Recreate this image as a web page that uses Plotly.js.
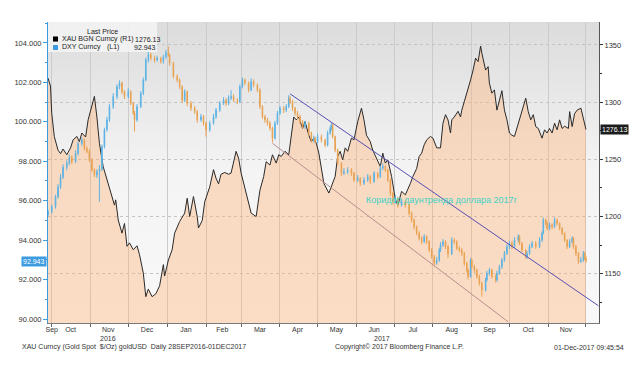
<!DOCTYPE html>
<html><head><meta charset="utf-8">
<script src="https://cdn.plot.ly/plotly-3.0.1.min.js"></script>
<style>html,body{margin:0;padding:0;background:#fff;}#chart{width:640px;height:374px;}</style>
</head><body><div id="chart"></div>
<script>
// ---------- DATA ----------
const goldDates = ['2016-09-28','2016-09-30','2016-10-01','2016-10-03','2016-10-06','2016-10-08','2016-10-10','2016-10-13','2016-10-16','2016-10-18','2016-10-21','2016-10-23','2016-10-25','2016-10-28','2016-10-30','2016-11-02','2016-11-04','2016-11-06','2016-11-08','2016-11-11','2016-11-14','2016-11-17','2016-11-20','2016-11-21','2016-11-23','2016-11-26','2016-11-28','2016-11-30','2016-12-02','2016-12-05','2016-12-08','2016-12-10','2016-12-13','2016-12-15','2016-12-17','2016-12-20','2016-12-23','2016-12-26','2016-12-29','2016-12-30','2017-01-02','2017-01-05','2017-01-07','2017-01-11','2017-01-15','2017-01-17','2017-01-19','2017-01-22','2017-01-25','2017-01-26','2017-01-29','2017-01-31','2017-02-04','2017-02-07','2017-02-09','2017-02-11','2017-02-13','2017-02-16','2017-02-19','2017-02-21','2017-02-25','2017-02-27','2017-03-01','2017-03-04','2017-03-07','2017-03-09','2017-03-13','2017-03-16','2017-03-19','2017-03-21','2017-03-24','2017-03-26','2017-03-29','2017-03-31','2017-04-02','2017-04-05','2017-04-08','2017-04-10','2017-04-12','2017-04-14','2017-04-16','2017-04-19','2017-04-21','2017-04-24','2017-04-26','2017-04-28','2017-04-30','2017-05-02','2017-05-04','2017-05-06','2017-05-10','2017-05-12','2017-05-15','2017-05-17','2017-05-19','2017-05-21','2017-05-23','2017-05-25','2017-05-28','2017-05-30','2017-06-02','2017-06-05','2017-06-07','2017-06-09','2017-06-12','2017-06-14','2017-06-17','2017-06-20','2017-06-22','2017-06-24','2017-06-26','2017-06-29','2017-07-02','2017-07-04','2017-07-07','2017-07-10','2017-07-14','2017-07-16','2017-07-19','2017-07-21','2017-07-23','2017-07-25','2017-07-27','2017-07-30','2017-08-01','2017-08-04','2017-08-07','2017-08-09','2017-08-11','2017-08-13','2017-08-15','2017-08-16','2017-08-18','2017-08-21','2017-08-23','2017-08-24','2017-08-26','2017-08-29','2017-08-31','2017-09-02','2017-09-04','2017-09-06','2017-09-08','2017-09-09','2017-09-12','2017-09-14','2017-09-15','2017-09-17','2017-09-19','2017-09-21','2017-09-23','2017-09-25','2017-09-27','2017-09-29','2017-10-01','2017-10-03','2017-10-05','2017-10-08','2017-10-10','2017-10-14','2017-10-16','2017-10-18','2017-10-20','2017-10-22','2017-10-24','2017-10-27','2017-10-29','2017-10-31','2017-11-02','2017-11-04','2017-11-06','2017-11-08','2017-11-10','2017-11-12','2017-11-14','2017-11-17','2017-11-18','2017-11-20','2017-11-22','2017-11-24','2017-11-27','2017-11-29','2017-12-01'];
const goldValues = [1321,1314,1290,1270,1258,1255,1259,1254,1260,1267,1270,1265.5,1273,1269.5,1284.5,1298.5,1305,1287,1264,1243.7,1232,1220.5,1210,1214.6,1197,1185.5,1194,1174,1177,1171,1174.5,1166.6,1150.6,1130,1136.6,1130,1132.5,1139.5,1158,1148,1162,1171,1185.5,1195.7,1203,1216,1200,1217.5,1200,1190,1196.5,1213,1226,1241,1233.5,1228.6,1237,1238.5,1237,1238,1257,1251,1238,1225,1210,1203,1200,1223,1235,1248,1245,1254,1246.7,1254,1252.5,1257,1254,1271,1287,1284.5,1287,1277,1283,1271,1265.5,1268.5,1264,1255.4,1241,1229,1220.5,1226,1235,1252.5,1257,1249.6,1260,1257,1268.5,1267,1283,1294.7,1284.5,1271,1265.5,1258,1251,1243.7,1255.4,1246.7,1249.6,1235,1215,1210,1222,1219,1229,1235,1242,1252.5,1255.4,1262.7,1267,1270,1268.5,1260,1260,1281.6,1289,1284.5,1273,1284.5,1287,1292,1287,1293,1300.5,1310.7,1319.4,1328,1338.4,1335.4,1349,1342.7,1328,1331,1316.5,1307.8,1310.7,1293,1302,1310,1293,1284.5,1273,1271,1270,1281.6,1289,1303.4,1291.7,1284.5,1289,1278.6,1277,1268.5,1275.8,1273,1277,1273,1281.6,1275.8,1284.5,1277,1279,1277,1291.7,1278.6,1290,1293,1294.7,1284.5,1276.13];

const dxyDates = ['2016-09-28','2016-10-01','2016-10-04','2016-10-06','2016-10-08','2016-10-10','2016-10-13','2016-10-15','2016-10-17','2016-10-20','2016-10-22','2016-10-25','2016-10-27','2016-10-29','2016-10-31','2016-11-02','2016-11-04','2016-11-06','2016-11-08','2016-11-10','2016-11-12','2016-11-14','2016-11-16','2016-11-19','2016-11-22','2016-11-24','2016-11-26','2016-11-28','2016-12-01','2016-12-03','2016-12-05','2016-12-06','2016-12-08','2016-12-11','2016-12-13','2016-12-15','2016-12-17','2016-12-19','2016-12-22','2016-12-24','2016-12-27','2016-12-29','2016-12-31','2017-01-02','2017-01-03','2017-01-06','2017-01-09','2017-01-11','2017-01-13','2017-01-15','2017-01-17','2017-01-20','2017-01-23','2017-01-25','2017-01-28','2017-01-30','2017-02-01','2017-02-04','2017-02-07','2017-02-09','2017-02-12','2017-02-15','2017-02-17','2017-02-19','2017-02-21','2017-02-23','2017-02-26','2017-02-28','2017-03-02','2017-03-04','2017-03-07','2017-03-09','2017-03-11','2017-03-14','2017-03-16','2017-03-18','2017-03-20','2017-03-22','2017-03-24','2017-03-26','2017-03-28','2017-03-30','2017-04-01','2017-04-04','2017-04-06','2017-04-08','2017-04-09','2017-04-11','2017-04-13','2017-04-15','2017-04-17','2017-04-19','2017-04-21','2017-04-24','2017-04-26','2017-04-28','2017-04-29','2017-05-01','2017-05-04','2017-05-07','2017-05-09','2017-05-11','2017-05-12','2017-05-13','2017-05-15','2017-05-17','2017-05-20','2017-05-22','2017-05-25','2017-05-28','2017-05-30','2017-06-02','2017-06-04','2017-06-07','2017-06-10','2017-06-12','2017-06-15','2017-06-18','2017-06-20','2017-06-22','2017-06-24','2017-06-26','2017-06-28','2017-06-30','2017-07-02','2017-07-04','2017-07-07','2017-07-10','2017-07-13','2017-07-15','2017-07-17','2017-07-19','2017-07-21','2017-07-23','2017-07-25','2017-07-27','2017-07-29','2017-07-31','2017-08-02','2017-08-04','2017-08-06','2017-08-07','2017-08-09','2017-08-11','2017-08-13','2017-08-16','2017-08-18','2017-08-20','2017-08-22','2017-08-24','2017-08-26','2017-08-28','2017-08-29','2017-08-31','2017-09-01','2017-09-03','2017-09-05','2017-09-07','2017-09-09','2017-09-12','2017-09-13','2017-09-15','2017-09-17','2017-09-20','2017-09-21','2017-09-23','2017-09-25','2017-09-27','2017-09-29','2017-10-01','2017-10-03','2017-10-05','2017-10-08','2017-10-09','2017-10-11','2017-10-14','2017-10-15','2017-10-17','2017-10-19','2017-10-22','2017-10-25','2017-10-27','2017-10-28','2017-10-30','2017-10-31','2017-11-02','2017-11-04','2017-11-06','2017-11-08','2017-11-10','2017-11-12','2017-11-14','2017-11-16','2017-11-18','2017-11-20','2017-11-21','2017-11-23','2017-11-25','2017-11-27','2017-11-29','2017-11-30','2017-12-01'];
const dxyOpen = [95.30,95.44,95.70,96.20,96.70,97.20,97.70,97.90,98.20,97.98,98.40,98.90,99.08,98.66,98.50,98.07,97.56,97.30,97.47,97.60,98.74,99.60,100.10,100.77,101.28,101.78,101.96,101.53,101.28,101.53,100.94,100.44,100.10,100.77,101.45,102.13,103.14,103.40,103.23,103.14,103.23,103.06,103.30,103.50,103.40,102.97,102.30,102.13,101.79,101.10,101.53,100.94,100.69,100.52,100.10,100.26,99.93,99.59,99.93,100.26,100.60,100.94,101.10,100.94,101.20,101.28,101.10,101.03,101.79,102.13,101.96,101.62,102.04,101.87,101.62,100.77,100.26,100.10,99.93,99.67,99.17,99.93,100.44,100.69,100.60,100.77,101.20,101.03,100.69,100.44,100.26,100.00,99.76,99.93,99.42,99.08,99.17,99.00,99.25,99.08,98.83,99.42,99.67,99.84,99.25,98.57,97.90,97.39,97.47,97.56,97.39,97.05,97.14,96.88,97.05,97.22,96.97,97.39,97.22,97.65,97.73,97.56,97.05,96.38,95.95,96.12,95.78,95.95,95.78,95.36,95.02,94.68,94.35,94.10,93.92,94.18,93.92,93.50,93.16,92.83,92.99,93.50,93.75,93.92,93.67,93.30,94.00,93.92,93.59,93.50,93.33,92.83,92.49,92.15,92.99,92.65,92.49,92.15,91.81,91.47,91.98,92.32,92.49,92.15,91.98,92.32,92.65,92.99,93.33,93.67,93.84,93.67,94.00,94.18,93.84,93.50,93.16,93.33,93.67,93.84,93.67,94.00,94.35,95.02,94.85,94.60,94.77,94.68,95.02,94.85,94.60,94.35,94.00,93.67,93.92,94.10,93.67,93.33,92.91,92.99,93.33,93.08];
const dxyHigh = [95.55,95.80,96.30,96.85,97.35,97.85,98.05,98.35,98.30,98.55,99.00,99.20,99.15,98.75,98.60,98.15,97.65,97.60,97.80,98.85,99.70,100.25,100.90,101.45,101.90,102.10,102.05,101.60,101.70,101.60,101.00,100.55,100.90,101.55,102.25,103.25,103.55,103.50,103.35,103.35,103.30,103.40,103.65,103.82,103.45,103.05,102.40,102.20,101.85,101.65,101.60,101.05,100.80,100.60,100.40,100.35,100.00,100.05,100.40,100.70,101.05,101.25,101.20,101.35,101.60,101.40,101.20,101.90,102.25,102.20,102.05,102.20,102.15,101.95,101.70,100.85,100.35,100.20,100.05,99.75,100.05,100.55,100.80,100.80,100.90,101.35,101.30,101.10,100.75,100.55,100.35,100.10,100.05,100.00,99.50,99.30,99.25,99.40,99.35,99.15,99.55,99.80,99.95,99.90,99.30,98.65,97.95,97.65,97.70,97.65,97.45,97.30,97.20,97.20,97.35,97.30,97.50,97.45,97.80,97.90,97.80,97.60,97.10,96.45,96.30,96.20,96.10,96.05,95.85,95.45,95.10,94.75,94.45,94.20,94.30,94.25,94.00,93.60,93.25,93.15,93.60,93.90,94.05,94.00,93.75,94.15,94.10,94.00,93.70,93.60,93.40,92.90,92.55,93.10,93.05,92.75,92.55,92.25,91.90,92.10,92.45,92.60,92.55,92.25,92.45,92.75,93.10,93.45,93.80,93.95,93.95,94.15,94.30,94.25,93.90,93.55,93.45,93.80,93.95,93.95,94.15,94.45,95.15,95.10,94.95,94.90,94.85,95.15,95.10,94.90,94.65,94.40,94.05,94.05,94.20,94.15,93.75,93.40,93.15,93.45,93.40,93.20];
const dxyLow = [95.20,95.35,95.60,96.10,96.60,97.10,97.55,97.80,97.85,97.90,98.30,98.80,98.55,98.40,97.95,97.45,97.20,97.15,95.95,97.50,98.65,99.50,100.00,100.65,101.15,101.65,101.40,101.15,101.20,100.85,100.35,99.50,100.00,100.70,101.35,102.05,103.00,103.10,103.00,103.05,102.95,102.95,103.20,103.30,102.85,102.20,102.00,101.65,100.95,101.00,100.80,100.55,100.40,99.95,100.00,99.80,99.25,99.50,99.85,100.15,100.50,100.85,100.80,100.85,101.10,101.00,100.90,100.95,101.70,101.85,101.50,101.55,101.75,101.50,100.65,100.15,99.95,99.80,99.55,98.95,99.10,99.85,100.35,100.45,100.50,100.70,100.90,100.55,100.30,100.15,99.90,99.65,99.65,99.30,98.95,98.95,98.90,98.90,98.95,98.70,98.75,99.35,99.55,99.15,98.45,97.80,97.25,97.30,97.35,97.25,96.95,96.95,96.75,96.80,96.95,96.85,96.90,97.10,97.15,97.55,97.45,96.95,96.25,95.80,95.85,95.65,95.70,95.65,95.25,94.90,94.55,94.25,94.00,93.80,93.85,93.80,93.40,93.05,92.70,92.75,92.90,93.40,93.65,93.55,93.10,93.25,93.80,93.50,93.40,93.20,92.70,92.35,92.00,92.10,92.55,92.35,92.05,91.70,91.13,91.40,91.90,92.20,92.05,91.85,91.90,92.25,92.55,92.90,93.25,93.55,93.55,93.60,93.90,93.75,93.40,93.05,93.05,93.25,93.60,93.55,93.60,93.90,94.30,94.75,94.50,94.50,94.55,94.60,94.75,94.50,94.25,93.90,93.55,93.60,93.85,93.55,93.20,92.80,92.85,92.90,93.00,92.85];
const dxyClose = [95.44,95.70,96.20,96.70,97.20,97.70,97.90,98.20,97.98,98.40,98.90,99.08,98.66,98.50,98.07,97.56,97.30,97.47,97.60,98.74,99.60,100.10,100.77,101.28,101.78,101.96,101.53,101.28,101.53,100.94,100.44,100.10,100.77,101.45,102.13,103.14,103.40,103.23,103.14,103.23,103.06,103.30,103.50,103.40,102.97,102.30,102.13,101.79,101.10,101.53,100.94,100.69,100.52,100.10,100.26,99.93,99.59,99.93,100.26,100.60,100.94,101.10,100.94,101.20,101.28,101.10,101.03,101.79,102.13,101.96,101.62,102.04,101.87,101.62,100.77,100.26,100.10,99.93,99.67,99.17,99.93,100.44,100.69,100.60,100.77,101.20,101.03,100.69,100.44,100.26,100.00,99.76,99.93,99.42,99.08,99.17,99.00,99.25,99.08,98.83,99.42,99.67,99.84,99.25,98.57,97.90,97.39,97.47,97.56,97.39,97.05,97.14,96.88,97.05,97.22,96.97,97.39,97.22,97.65,97.73,97.56,97.05,96.38,95.95,96.12,95.78,95.95,95.78,95.36,95.02,94.68,94.35,94.10,93.92,94.18,93.92,93.50,93.16,92.83,92.99,93.50,93.75,93.92,93.67,93.30,94.00,93.92,93.59,93.50,93.33,92.83,92.49,92.15,92.99,92.65,92.49,92.15,91.81,91.47,91.98,92.32,92.49,92.15,91.98,92.32,92.65,92.99,93.33,93.67,93.84,93.67,94.00,94.18,93.84,93.50,93.16,93.33,93.67,93.84,93.67,94.00,94.35,95.02,94.85,94.60,94.77,94.68,95.02,94.85,94.60,94.35,94.00,93.67,93.92,94.10,93.67,93.33,92.91,92.99,93.33,93.08,92.943];

const monthTickDates = ['2016-10-01','2016-10-16','2016-11-15','2016-12-16','2017-01-16','2017-02-14','2017-03-16','2017-04-15','2017-05-16','2017-06-15','2017-07-16','2017-08-16','2017-09-15','2017-10-16','2017-11-15'];
const monthLabels = ['Sep','Oct','Nov','Dec','Jan','Feb','Mar','Apr','May','Jun','Jul','Aug','Sep','Oct','Nov'];
const yearLabelDates = ['2016-11-15','2017-06-21'];
const yearLabels = ['2016','2017'];

const goldTicks = [1150,1200,1250,1300,1350];
const dxyTicks = [90,92,94,96,98,100,102,104];

const channelUpperDates = ['2017-04-09','2017-12-11'];
const channelUpperValues = [101.42, 90.67];
const channelLowerDates = ['2017-03-26','2017-09-30'];
const channelLowerValues = [98.91, 89.86];

const noteText = 'Коридор даунтренда доллара 2017г';
const noteDate = '2017-08-08';
const noteValue = 96.04;

const goldName = 'XAU BGN Curncy';
const dxyName = 'DXY Curncy';
const footerLeft = 'XAU Curncy (Gold Spot  $/Oz) goldUSD  Daily 28SEP2016-01DEC2017';
const footerMid = 'Copyright© 2017 Bloomberg Finance L.P.';
const footerRight = '01-Dec-2017 09:45:54';

// ---------- CHART ----------
const FONT = 'Liberation Sans, Arial, sans-serif';
const BLUE = '#3d9be0';
const goldLast = goldValues[goldValues.length-1];
const dxyLast = dxyClose[dxyClose.length-1];

const gradient = "data:image/svg+xml;utf8," + encodeURIComponent(
  "<svg xmlns='http://www.w3.org/2000/svg' width='10' height='100' preserveAspectRatio='none'>" +
  "<defs><linearGradient id='g' x1='0' y1='0' x2='0' y2='1'>" +
  "<stop offset='0' stop-color='#dcdcdc'/><stop offset='0.5' stop-color='#f4f4f4'/><stop offset='1' stop-color='#f8f8f8'/>" +
  "</linearGradient></defs><rect width='10' height='100' fill='url(#g)'/></svg>");

const traces = [
  {type:'scatter', mode:'lines', x:goldDates, y:goldValues, yaxis:'y',
   line:{color:'#2a2a2a', width:1}, fill:'tozeroy', fillcolor:'rgba(255,178,118,0.40)',
   hoverinfo:'skip', showlegend:false},
  {type:'candlestick', x:dxyDates, open:dxyOpen, high:dxyHigh, low:dxyLow, close:dxyClose,
   yaxis:'y2', whiskerwidth:0,
   increasing:{line:{color:'#5cb3e4', width:1}, fillcolor:'#5cb3e4'},
   decreasing:{line:{color:'#e8a252', width:1}, fillcolor:'#e8a252'},
   hoverinfo:'skip', showlegend:false}
];

const ann = [];
const small = {family:FONT, size:7, color:'#222'};
// legend
ann.push({xref:'paper', yref:'paper', x:0.0998, y:0.970, text:'Last Price', showarrow:false, xanchor:'center', yanchor:'middle', font:small});
ann.push({xref:'paper', yref:'paper', x:0.0218, y:0.9435, text:goldName, showarrow:false, xanchor:'left', yanchor:'middle', font:small});
ann.push({xref:'paper', yref:'paper', x:0.1270, y:0.9435, text:'(R1)', showarrow:false, xanchor:'left', yanchor:'middle', font:small});
ann.push({xref:'paper', yref:'paper', x:0.1540, y:0.9435, text:goldLast.toFixed(2), showarrow:false, xanchor:'left', yanchor:'middle', font:small});
ann.push({xref:'paper', yref:'paper', x:0.0218, y:0.9153, text:dxyName, showarrow:false, xanchor:'left', yanchor:'middle', font:small});
ann.push({xref:'paper', yref:'paper', x:0.1034, y:0.9153, text:'(L1)', showarrow:false, xanchor:'left', yanchor:'middle', font:small});
ann.push({xref:'paper', yref:'paper', x:0.1525, y:0.9153, text:dxyLast.toFixed(3), showarrow:false, xanchor:'left', yanchor:'middle', font:small});
// last-value tags
ann.push({xref:'paper', yref:'y2', x:0, y:dxyLast, text:dxyLast.toFixed(3), showarrow:false, xanchor:'right', yanchor:'middle', xshift:-1,
  bgcolor:BLUE, borderpad:1, font:{family:FONT, size:7, color:'#fff'}});
ann.push({xref:'paper', yref:'y', x:1, y:goldLast, text:goldLast.toFixed(2), showarrow:false, xanchor:'left', yanchor:'middle', xshift:1,
  bgcolor:'#1c1c1c', borderpad:1, font:{family:FONT, size:7, color:'#fff'}});
// years
yearLabelDates.forEach((d,i)=>ann.push({xref:'x', yref:'paper', x:d, y:-0.052, text:yearLabels[i], showarrow:false, xanchor:'center', yanchor:'middle', font:{family:FONT, size:7, color:'#333'}}));
// footer
const fy = -0.080;
ann.push({xref:'paper', yref:'paper', x:-0.0508, y:fy, text:footerLeft, showarrow:false, xanchor:'left', yanchor:'middle', font:{family:FONT, size:7, color:'#333'}});
ann.push({xref:'paper', yref:'paper', x:0.517, y:fy, text:footerMid, showarrow:false, xanchor:'left', yanchor:'middle', font:{family:FONT, size:7, color:'#333'}});
ann.push({xref:'paper', yref:'paper', x:1.049, y:fy, text:footerRight, showarrow:false, xanchor:'right', yanchor:'middle', font:{family:FONT, size:7, color:'#333'}});
// note
ann.push({xref:'x', yref:'y2', x:noteDate, y:noteValue, text:noteText, showarrow:false, xanchor:'center', yanchor:'middle', font:{family:FONT, size:9, color:'#3fd3c6'}});

const shapes = [
  {type:'rect', xref:'paper', yref:'paper', x0:0, x1:0.198, y0:0.900, y1:1, fillcolor:'rgba(244,244,244,0.85)', line:{width:0}, layer:'above'},
  {type:'rect', xref:'paper', yref:'paper', x0:0.0091, x1:0.0181, y0:0.935, y1:0.952, fillcolor:'#000', line:{width:0}, layer:'above'},
  {type:'rect', xref:'paper', yref:'paper', x0:0.0091, x1:0.0181, y0:0.907, y1:0.9236, fillcolor:BLUE, line:{width:0}, layer:'above'},
  {type:'line', xref:'x', yref:'y2', x0:channelUpperDates[0], x1:channelUpperDates[1], y0:channelUpperValues[0], y1:channelUpperValues[1], line:{color:'#5650b4', width:1}, layer:'above'},
  {type:'line', xref:'x', yref:'y2', x0:channelLowerDates[0], x1:channelLowerDates[1], y0:channelLowerValues[0], y1:channelLowerValues[1], line:{color:'#b98e8e', width:1}, layer:'above'}
];

const layout = {
  width:640, height:374,
  margin:{l:48, r:41, t:22, b:51, pad:0},
  paper_bgcolor:'#ffffff', plot_bgcolor:'#eeeeee',
  showlegend:false,
  font:{family:FONT, size:7.5, color:'#333'},
  images:[{source:gradient, xref:'paper', yref:'paper', x:0, y:1, sizex:1, sizey:1, sizing:'stretch', xanchor:'left', yanchor:'top', layer:'below'}],
  xaxis:{type:'date', range:['2016-09-28','2017-12-11 10:00'], rangeslider:{visible:false},
    tickmode:'array', tickvals:monthTickDates, ticktext:monthLabels, ticks:'', showgrid:false,
    showline:true, linecolor:'#7a7a7a', linewidth:1, zeroline:false,
    tickfont:{family:FONT, size:7, color:'#333'},
    minor:{dtick:'M1', tick0:'2016-10-01', ticks:'outside', ticklen:3, tickcolor:'#666', showgrid:true, gridcolor:'#cbcbcb', gridwidth:1}},
  yaxis:{side:'right', range:[1107,1370], tickmode:'array', tickvals:goldTicks, ticks:'outside', ticklen:3, tickcolor:'#333',
    showline:true, linecolor:'#555', linewidth:1, showgrid:true, gridcolor:'#c4c4c4', griddash:'dot', zeroline:false,
    tickfont:{family:FONT, size:7.5, color:'#333'},
    minor:{dtick:25, tick0:1125, ticks:'outside', ticklen:2, tickcolor:'#333', showgrid:false}},
  yaxis2:{overlaying:'y', side:'left', range:[89.8,105.06], tickmode:'array', tickvals:dxyTicks, tickformat:'.3f',
    ticks:'outside', ticklen:4, tickcolor:BLUE, showline:true, linecolor:BLUE, linewidth:1, showgrid:false, zeroline:false,
    tickfont:{family:FONT, size:7.5, color:'#333'},
    minor:{dtick:1, tick0:89, ticks:'outside', ticklen:2, tickcolor:BLUE, showgrid:false}},
  annotations:ann,
  shapes:shapes
};

Plotly.newPlot('chart', traces, layout, {displayModeBar:false, staticPlot:true});
</script></body></html>
